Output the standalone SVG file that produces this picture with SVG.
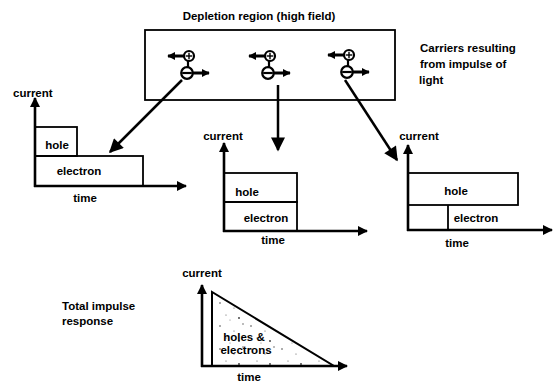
<svg xmlns="http://www.w3.org/2000/svg" width="553" height="384" viewBox="0 0 553 384">
<style>
  text { font-family: "Liberation Sans", Arial, sans-serif; font-weight: bold; font-size: 11.5px; fill: #000; }
  .box { fill: none; stroke: #000; stroke-width: 1.8; }
  .axis { fill: none; stroke: #000; stroke-width: 2.6; }
  .conn { fill: none; stroke: #000; stroke-width: 2.5; }
  .car { fill: #fff; stroke: #000; stroke-width: 2.2; }
  .carline { fill: none; stroke: #000; stroke-width: 3; }
  .mid { text-anchor: middle; }
</style>
<defs>
  <marker id="ah" viewBox="0 0 10 10" refX="9" refY="5" markerUnits="userSpaceOnUse" markerWidth="11" markerHeight="10" orient="auto">
    <path d="M0,0 L10,5 L0,10 z" fill="#000"/>
  </marker>
  <marker id="ahBig" viewBox="0 0 10 10" refX="9" refY="5" markerUnits="userSpaceOnUse" markerWidth="15" markerHeight="14" orient="auto">
    <path d="M0,0 L10,5 L0,10 z" fill="#000"/>
  </marker>
  <marker id="ahSmall" viewBox="0 0 10 10" refX="9" refY="5" markerUnits="userSpaceOnUse" markerWidth="8" markerHeight="9" orient="auto">
    <path d="M0,0 L10,5 L0,10 z" fill="#000"/>
  </marker>
  <pattern id="stipple" width="31" height="23" patternUnits="userSpaceOnUse">
    <circle cx="3" cy="4" r="0.8" fill="#444"/>
    <circle cx="17" cy="9" r="0.6" fill="#555"/>
    <circle cx="26" cy="2" r="0.7" fill="#444"/>
    <circle cx="9" cy="16" r="0.6" fill="#555"/>
    <circle cx="22" cy="19" r="0.9" fill="#333"/>
    <circle cx="13" cy="21" r="0.5" fill="#666"/>
  </pattern>
  <g id="carrier">
    <line class="carline" x1="-4" y1="0" x2="-21" y2="0" marker-end="url(#ahSmall)"/>
    <line class="carline" x1="3" y1="17" x2="20" y2="17" marker-end="url(#ahSmall)"/>
    <line x1="-1" y1="4" x2="-1" y2="12" stroke="#000" stroke-width="2.2"/>
    <circle class="car" cx="0" cy="0" r="5"/>
    <line x1="-3.2" y1="0" x2="3.2" y2="0" stroke="#000" stroke-width="1.4"/>
    <line x1="0" y1="-3.2" x2="0" y2="3.2" stroke="#000" stroke-width="1.4"/>
    <circle class="car" cx="-2" cy="17" r="5.8"/>
    <line x1="-6.8" y1="17" x2="2.8" y2="17" stroke="#000" stroke-width="2.2"/>
  </g>
</defs>
<rect width="553" height="384" fill="#fff"/>

<g id="title">
  <text class="mid" x="259" y="20">Depletion region  (high field)</text>
</g>

<g id="depletion-region">
  <rect class="box" x="145" y="30" width="250" height="70"/>
  <use href="#carrier" x="189" y="56"/>
  <use href="#carrier" x="270" y="56"/>
  <use href="#carrier" x="349" y="55"/>
</g>

<g id="carriers-note">
  <text x="420" y="52">Carriers resulting</text>
  <text x="420" y="68">from impulse of</text>
  <text x="419" y="84">light</text>
</g>

<g id="connectors">
  <line class="conn" x1="182" y1="80" x2="110" y2="152" marker-end="url(#ahBig)"/>
  <line class="conn" x1="278" y1="85" x2="278" y2="150" marker-end="url(#ahBig)"/>
  <line class="conn" x1="345" y1="80" x2="397" y2="160" marker-end="url(#ahBig)"/>
</g>

<g id="chart-left">
  <text x="13" y="97">current</text>
  <rect class="box" x="35" y="127" width="42" height="29"/>
  <rect class="box" x="35" y="156" width="108" height="30"/>
  <text class="mid" x="57" y="149">hole</text>
  <text class="mid" x="79" y="175">electron</text>
  <line class="axis" x1="35" y1="187" x2="35" y2="98" marker-end="url(#ah)"/>
  <line class="axis" x1="34" y1="186" x2="186" y2="186" marker-end="url(#ah)"/>
  <text class="mid" x="85" y="202">time</text>
</g>

<g id="chart-middle">
  <text class="mid" x="223" y="140">current</text>
  <rect class="box" x="224" y="173" width="73" height="29"/>
  <rect class="box" x="224" y="202" width="73" height="29"/>
  <text class="mid" x="247" y="196">hole</text>
  <text class="mid" x="266" y="222">electron</text>
  <line class="axis" x1="224" y1="232" x2="224" y2="143" marker-end="url(#ah)"/>
  <line class="axis" x1="223" y1="231" x2="367" y2="231" marker-end="url(#ah)"/>
  <text class="mid" x="273" y="244">time</text>
</g>

<g id="chart-right">
  <text class="mid" x="419" y="140">current</text>
  <rect class="box" x="408" y="173" width="110" height="32"/>
  <line class="box" x1="448" y1="205" x2="448" y2="230"/>
  <text class="mid" x="456" y="195">hole</text>
  <text class="mid" x="476" y="222">electron</text>
  <line class="axis" x1="408" y1="231" x2="408" y2="145" marker-end="url(#ah)"/>
  <line class="axis" x1="407" y1="230" x2="552" y2="230" marker-end="url(#ah)"/>
  <text class="mid" x="457" y="247">time</text>
</g>

<g id="total-label">
  <text x="62" y="310">Total impulse</text>
  <text x="62" y="325">response</text>
</g>

<g id="chart-total">
  <text class="mid" x="202" y="277">current</text>
  <path d="M212,292 L212,366 L334,366 Z" fill="url(#stipple)" stroke="#000" stroke-width="2"/>
  <line class="axis" x1="202" y1="367" x2="202" y2="285" marker-end="url(#ah)"/>
  <line class="axis" x1="201" y1="366" x2="347" y2="366" marker-end="url(#ah)"/>
  <text class="mid" x="244" y="341">holes &amp;</text>
  <text class="mid" x="246" y="354">electrons</text>
  <text class="mid" x="249" y="381">time</text>
</g>
</svg>
